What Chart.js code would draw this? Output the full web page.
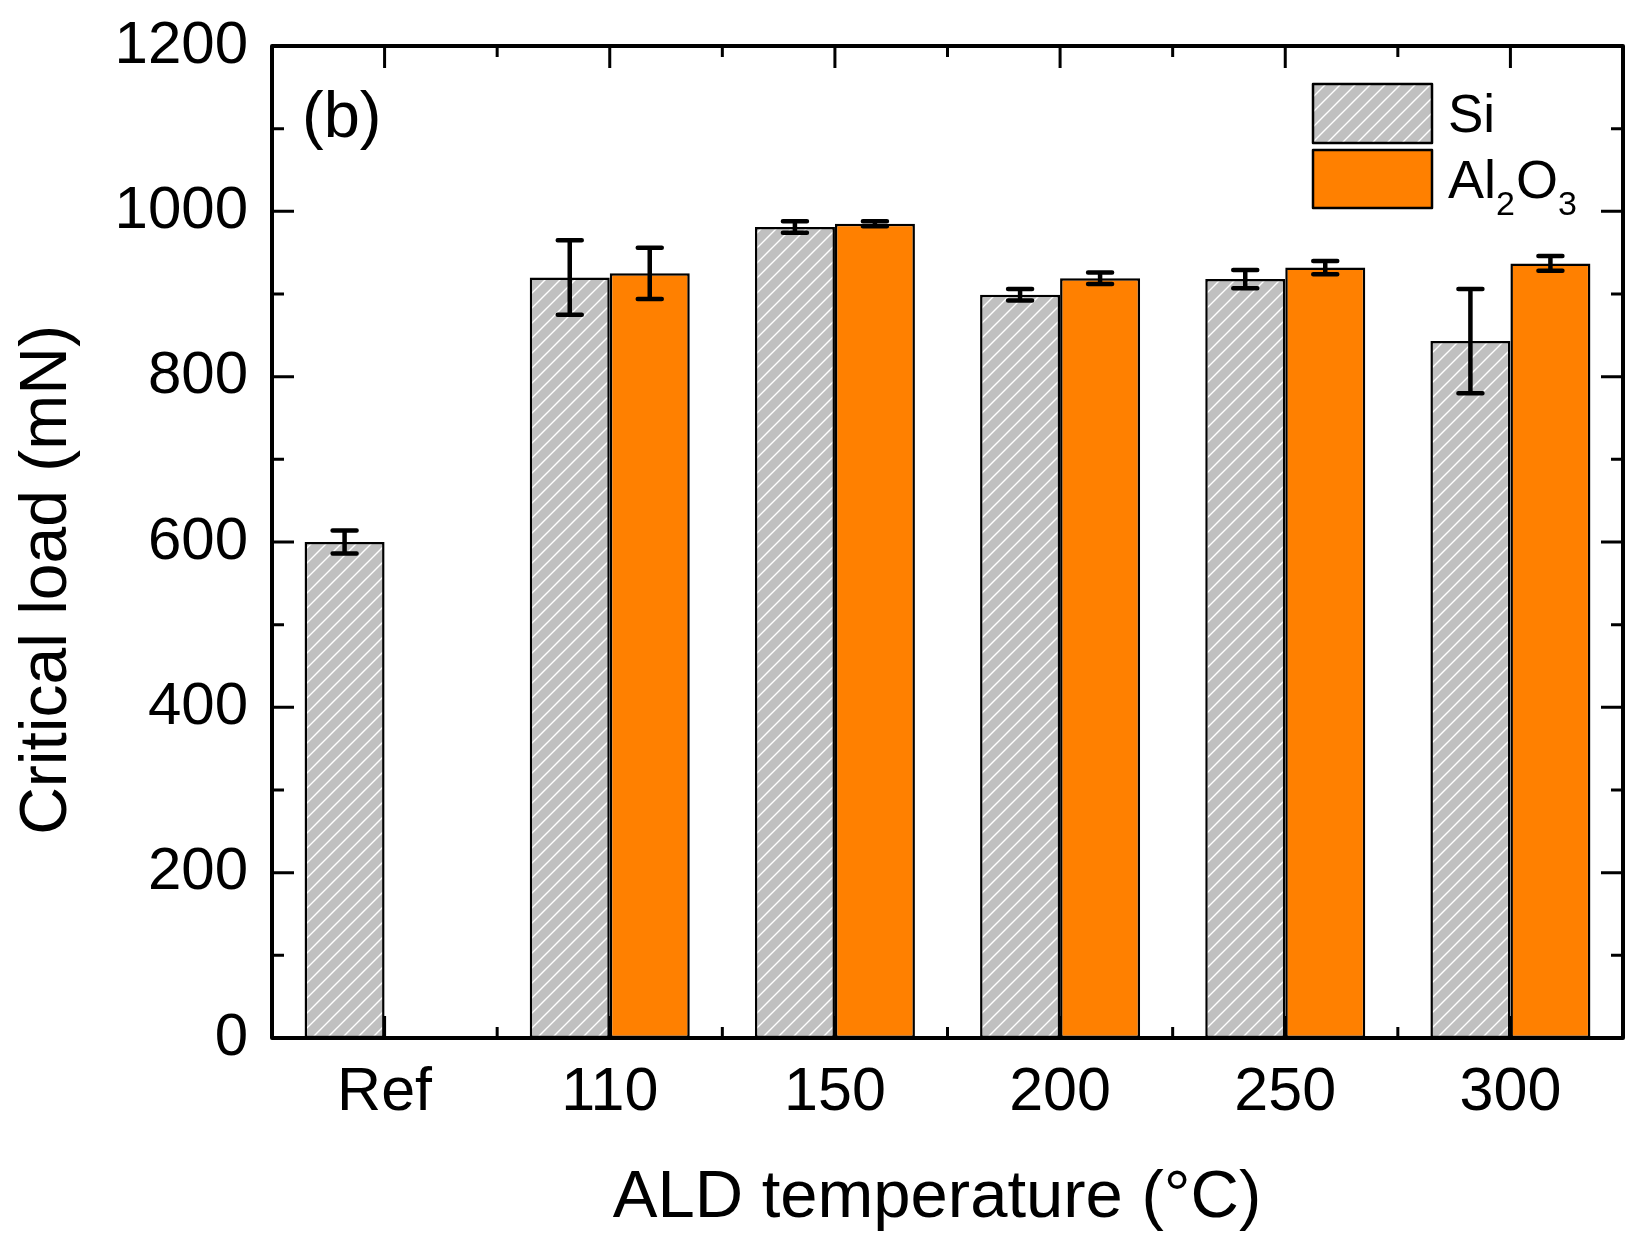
<!DOCTYPE html>
<html>
<head>
<meta charset="utf-8">
<script src="https://cdn.jsdelivr.net/npm/chart.js@4/dist/chart.umd.min.js"></script>
<style>
html,body{margin:0;padding:0;background:#fff;}
#wrap{width:1632px;height:1237px;}
</style>
</head>
<body>
<div id="wrap"><canvas id="c" width="1632" height="1237"></canvas></div>
<script>
// ---- data ----
const categories = ['Ref', '110', '150', '200', '250', '300'];
const siValues = [600, 920, 981, 899, 918, 843];
const siErrors = [14, 45, 7, 7, 11, 63];
const al2o3Values = [null, 925, 985, 919, 932, 937];
const al2o3Errors = [null, 31, 3, 7, 8, 9];
const yTicks = [0, 200, 400, 600, 800, 1000, 1200];
const seriesNames = ['Si', 'Al2O3'];

const FONT = "'Liberation Sans', Arial, sans-serif";
const ORANGE = '#ff8000';
const GRAY = '#c0c0c0';

const ctx0 = document.getElementById('c').getContext('2d');
const hatch = ctx0.createPattern((function(){
  const s = 15;
  const c = document.createElement('canvas');
  c.width = s; c.height = s;
  const g = c.getContext('2d');
  g.fillStyle = GRAY;
  g.fillRect(0, 0, s, s);
  g.strokeStyle = '#ffffff';
  g.lineWidth = 1.4;
  g.beginPath();
  g.moveTo(-1, s + 1); g.lineTo(s + 1, -1);
  g.moveTo(-1, 1); g.lineTo(1, -1);
  g.moveTo(s - 1, s + 1); g.lineTo(s + 1, s - 1);
  g.stroke();
  return c;
})(), 'repeat');

const errorLists = [siErrors, al2o3Errors];

const ticksPlugin = {
  id: 'ticksPlugin',
  beforeDatasetsDraw(chart) {
    const {ctx, chartArea: a, scales: {x, y}} = chart;
    ctx.save();
    ctx.strokeStyle = '#000';
    ctx.lineWidth = 3;
    ctx.lineCap = 'butt';
    ctx.beginPath();
    for (let v = 0; v <= 1200; v += 100) {
      const py = y.getPixelForValue(v);
      const len = (v % 200 === 0) ? 22 : 12;
      ctx.moveTo(a.left, py); ctx.lineTo(a.left + len, py);
      ctx.moveTo(a.right, py); ctx.lineTo(a.right - len, py);
    }
    const n = categories.length;
    for (let i = 0; i < n; i++) {
      const px = x.getPixelForValue(i);
      ctx.moveTo(px, a.bottom); ctx.lineTo(px, a.bottom - 22);
      ctx.moveTo(px, a.top); ctx.lineTo(px, a.top + 22);
    }
    for (let i = 0; i < n - 1; i++) {
      const px = (x.getPixelForValue(i) + x.getPixelForValue(i + 1)) / 2;
      ctx.moveTo(px, a.bottom); ctx.lineTo(px, a.bottom - 11);
      ctx.moveTo(px, a.top); ctx.lineTo(px, a.top + 11);
    }
    ctx.stroke();
    ctx.restore();
  },
  afterDatasetsDraw(chart) {
    const {ctx, scales: {y}} = chart;
    ctx.save();
    ctx.strokeStyle = '#000';
    ctx.lineWidth = 4.5;
    ctx.lineCap = 'round';
    chart.data.datasets.forEach((ds, di) => {
      const meta = chart.getDatasetMeta(di);
      const errs = errorLists[di];
      meta.data.forEach((bar, i) => {
        const v = ds.data[i];
        const e = errs[i];
        if (v === null || e === null || e === undefined) return;
        const px = bar.x;
        const top = y.getPixelForValue(v + e);
        const bot = y.getPixelForValue(v - e);
        ctx.beginPath();
        ctx.moveTo(px, top); ctx.lineTo(px, bot);
        ctx.moveTo(px - 12, top); ctx.lineTo(px + 12, top);
        ctx.moveTo(px - 12, bot); ctx.lineTo(px + 12, bot);
        ctx.stroke();
      });
    });
    ctx.restore();
  },
  afterDraw(chart) {
    const {ctx, chartArea: a} = chart;
    ctx.save();
    ctx.strokeStyle = '#000';
    ctx.lineWidth = 4;
    ctx.lineJoin = 'round';
    ctx.strokeRect(a.left, a.top, a.right - a.left, a.bottom - a.top);

    ctx.fillStyle = '#000';
    ctx.font = '65px ' + FONT;
    ctx.textAlign = 'left';
    ctx.textBaseline = 'alphabetic';
    ctx.fillText('(b)', 302, 137);

    ctx.font = '67px ' + FONT;
    ctx.textAlign = 'center';
    ctx.fillText('ALD temperature (°C)', 937, 1217);
    ctx.save();
    ctx.translate(66, 580);
    ctx.rotate(-Math.PI / 2);
    ctx.font = '66px ' + FONT;
    ctx.fillText('Critical load (mN)', 0, 0);
    ctx.restore();

    // legend
    ctx.lineWidth = 2.5;
    ctx.fillStyle = hatch;
    ctx.fillRect(1313, 84, 119, 59);
    ctx.strokeRect(1313, 84, 119, 59);
    ctx.fillStyle = ORANGE;
    ctx.fillRect(1313, 150, 119, 58);
    ctx.strokeRect(1313, 150, 119, 58);

    ctx.fillStyle = '#000';
    ctx.textAlign = 'left';
    ctx.font = '53px ' + FONT;
    ctx.fillText(seriesNames[0], 1448, 132);
    let xx = 1448;
    const big = '54px ' + FONT, small = '34px ' + FONT;
    ctx.font = big; ctx.fillText('Al', xx, 198); xx += ctx.measureText('Al').width;
    ctx.font = small; ctx.fillText('2', xx, 215); xx += ctx.measureText('2').width + 1;
    ctx.font = big; ctx.fillText('O', xx, 198); xx += ctx.measureText('O').width;
    ctx.font = small; ctx.fillText('3', xx, 215);
    ctx.restore();
  }
};

new Chart(document.getElementById('c'), {
  type: 'bar',
  data: {
    labels: categories,
    datasets: [
      {
        label: seriesNames[0],
        data: siValues,
        backgroundColor: hatch,
        borderColor: '#000',
        borderWidth: 2.5,
        borderSkipped: false
      },
      {
        label: seriesNames[1],
        data: al2o3Values,
        backgroundColor: ORANGE,
        borderColor: '#000',
        borderWidth: 2.5,
        borderSkipped: false
      }
    ]
  },
  options: {
    responsive: false,
    animation: false,
    devicePixelRatio: 1,
    categoryPercentage: 0.7106,
    barPercentage: 1.0,
    layout: {padding: {left: 0, top: 46, right: 9, bottom: 0}},
    plugins: {legend: {display: false}, tooltip: {enabled: false}, title: {display: false}},
    scales: {
      x: {
        grid: {display: false, drawTicks: false},
        border: {display: false},
        ticks: {color: '#000', font: {family: FONT, size: 61}, padding: 19, maxRotation: 0},
        afterFit(s) { s.height = 199; }
      },
      y: {
        min: 0, max: 1200,
        afterBuildTicks(s) { s.ticks = yTicks.map(v => ({value: v})); },
        grid: {display: false, drawTicks: false},
        border: {display: false},
        ticks: {color: '#000', font: {family: FONT, size: 60, lineHeight: 0.5}, padding: 24,
                callback: (v) => String(v)},
        afterFit(s) { s.width = 272; }
      }
    }
  },
  plugins: [ticksPlugin]
});
</script>
</body>
</html>
